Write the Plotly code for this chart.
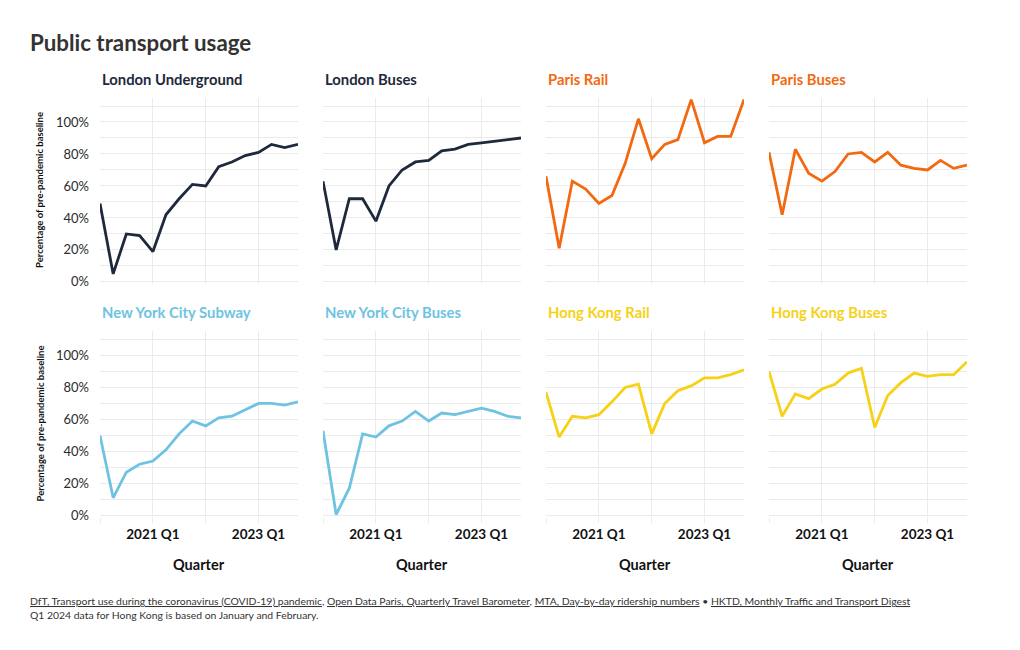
import plotly.graph_objects as go

quarters = ["2020-01-01", "2020-04-01", "2020-07-01", "2020-10-01",
            "2021-01-01", "2021-04-01", "2021-07-01", "2021-10-01",
            "2022-01-01", "2022-04-01", "2022-07-01", "2022-10-01",
            "2023-01-01", "2023-04-01", "2023-07-01", "2023-10-01"]

london_underground = [49, 5, 30, 29, 19, 42, 52, 61, 60, 72, 75, 79, 81, 86, 84, 86]
london_buses = [63, 20, 52, 52, 38, 60, 70, 75, 76, 82, 83, 86, 87, 88, 89, 90]
paris_rail = [66, 21, 63, 58, 49, 54, 74, 102, 77, 86, 89, 114, 87, 91, 91, 114]
paris_buses = [81, 42, 83, 68, 63, 69, 80, 81, 75, 81, 73, 71, 70, 76, 71, 73]
nyc_subway = [50, 11, 27, 32, 34, 41, 51, 59, 56, 61, 62, 66, 70, 70, 69, 71]
nyc_buses = [53, 0.5, 17, 51, 49, 56, 59, 65, 59, 64, 63, 65, 67, 65, 62, 61]
hk_rail = [77, 49, 62, 61, 63, 71, 80, 82, 51, 70, 78, 81, 86, 86, 88, 91]
hk_buses = [90, 62, 76, 73, 79, 82, 89, 92, 55, 75, 83, 89, 87, 88, 88, 96]

panels = [
    ("London Underground", london_underground, "#1e2a3b"),
    ("London Buses", london_buses, "#1e2a3b"),
    ("Paris Rail", paris_rail, "#f2690f"),
    ("Paris Buses", paris_buses, "#f2690f"),
    ("New York City Subway", nyc_subway, "#6ec3e2"),
    ("New York City Buses", nyc_buses, "#6ec3e2"),
    ("Hong Kong Rail", hk_rail, "#f7d116"),
    ("Hong Kong Buses", hk_buses, "#f7d116"),
]

grid_vals = ["2020-01-01", "2021-01-01", "2022-01-01", "2023-01-01"]
grid_text = ["", "2021 Q1", "", "2023 Q1"]

OFF = 8  # page body margin
W, H = 1020 - OFF, 650 - OFF
ML, MT = 100 - OFF, 98 - OFF
ppu = 1.6
yr = [-1, 115]
ph = (yr[1] - yr[0]) * ppu
row_tops = [98 - OFF, 331.6 - OFF]
col_lefts = [100 - OFF, 323 - OFF, 546 - OFF, 769 - OFF]
pw = 198
MR = W - (col_lefts[3] + pw)
MB = H - (row_tops[1] + ph)
PW = W - ML - MR
PH = H - MT - MB

FONT = "Lato, 'Source Sans Pro', sans-serif"
TXT = "#2b2b2b"
GRID = "#ebebeb"


def px_x(x):
    return (x - OFF - ML) / PW


def px_y(y):
    return 1 - (y - OFF - MT) / PH


fig = go.Figure()
annotations = []

for i, (name, vals, color) in enumerate(panels):
    r, c = divmod(i, 4)
    idx = i + 1
    xa = "x" if idx == 1 else f"x{idx}"
    ya = "y" if idx == 1 else f"y{idx}"
    fig.add_trace(go.Scatter(x=quarters, y=vals, mode="lines",
                             line=dict(color=color, width=2.8),
                             xaxis=xa, yaxis=ya, showlegend=False,
                             hovertemplate="%{y}%<extra>" + name + "</extra>"))
    x0 = (col_lefts[c] - ML) / PW
    x1 = (col_lefts[c] + pw - ML) / PW
    ytop = 1 - (row_tops[r] - MT) / PH
    ybot = 1 - (row_tops[r] + ph - MT) / PH
    xkey = "xaxis" if idx == 1 else f"xaxis{idx}"
    ykey = "yaxis" if idx == 1 else f"yaxis{idx}"
    bottom = (r == 1)
    fig.layout[xkey] = dict(
        domain=[x0, min(x1, 1)], anchor=ya, type="date",
        range=["2020-01-01", "2023-10-01"],
        tickvals=grid_vals, ticktext=grid_text,
        showticklabels=bottom, ticks="outside" if bottom else "",
        ticklen=5, tickcolor=GRID, tickwidth=1,
        showgrid=True, gridcolor=GRID, gridwidth=1,
        zeroline=False, showline=False,
        tickfont=dict(family=FONT, size=13.5, color="#111", weight="bold"),
        fixedrange=True,
    )
    fig.layout[ykey] = dict(
        domain=[max(ybot, 0), min(ytop, 1)], anchor=xa,
        range=yr, tickvals=[0, 20, 40, 60, 80, 100],
        ticktext=["0%", "20%", "40%", "60%", "80%", "100%"],
        showticklabels=(c == 0), ticks="",
        ticklabelstandoff=10,
        showgrid=True, gridcolor=GRID, gridwidth=1,
        minor=dict(tickvals=[10, 30, 50, 70, 90, 110], showgrid=True, gridcolor=GRID, gridwidth=1),
        zeroline=False, showline=False,
        tickfont=dict(family=FONT, size=13, color=TXT),
        fixedrange=True,
    )
    row_top_screen = row_tops[r] + OFF
    annotations.append(dict(
        text=f"<b>{name}</b>", xref="paper", yref="paper",
        x=x0, y=px_y(row_top_screen - 19),
        xanchor="left", yanchor="middle", showarrow=False,
        font=dict(family=FONT, size=14.8, color=color)))
    if c == 0:
        annotations.append(dict(
            text="<b>Percentage of pre-pandemic baseline</b>", textangle=-90,
            xref="paper", yref="paper",
            x=px_x(40), y=px_y(row_top_screen + 92),
            xanchor="center", yanchor="middle", showarrow=False,
            font=dict(family=FONT, size=9.5, color="#111")))
    if bottom:
        annotations.append(dict(
            text="<b>Quarter</b>", xref="paper", yref="paper",
            x=(x0 + x1) / 2, y=px_y(565),
            xanchor="center", yanchor="middle", showarrow=False,
            font=dict(family=FONT, size=14.5, color="#111")))

annotations.append(dict(
    text="<b>Public transport usage</b>", xref="paper", yref="paper",
    x=px_x(28), y=px_y(42), xanchor="left", yanchor="middle",
    showarrow=False, font=dict(family=FONT, size=22.3, color="#333333")))

footer1 = ("<u>DfT, Transport use during the coronavirus (COVID-19) pandemic</u>, "
           "<u>Open Data Paris, Quarterly Travel Barometer</u>, "
           "<u>MTA, Day-by-day ridership numbers</u> \u2022 "
           "<u>HKTD, Monthly Traffic and Transport Digest</u>")
footer2 = "Q1 2024 data for Hong Kong is based on January and February."
annotations.append(dict(
    text=footer1, xref="paper", yref="paper",
    x=px_x(28), y=px_y(601), xanchor="left", yanchor="middle",
    showarrow=False, font=dict(family=FONT, size=10.4, color="#333333")))
annotations.append(dict(
    text=footer2, xref="paper", yref="paper",
    x=px_x(28), y=px_y(615), xanchor="left", yanchor="middle",
    showarrow=False, font=dict(family=FONT, size=10.4, color="#333333")))

fig.update_layout(
    width=W, height=H,
    margin=dict(l=ML, r=MR, t=MT, b=MB, autoexpand=False),
    paper_bgcolor="white", plot_bgcolor="white",
    font=dict(family=FONT, color=TXT),
    annotations=annotations,
    showlegend=False,
)

fig.write_html("out.html")
